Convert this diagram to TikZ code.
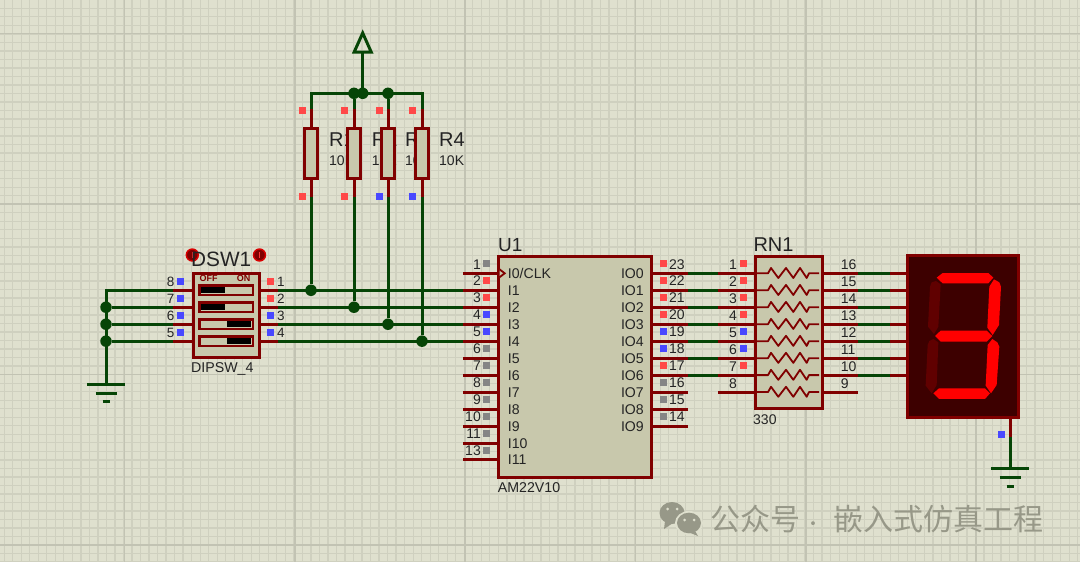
\documentclass[tikz,border=0pt]{standalone}
\usepackage{fontspec}
\setmainfont{Liberation Sans}
\newfontfamily\cjk{Noto Sans CJK SC}
\definecolor{sheet}{HTML}{DFE0CE}
\definecolor{gridA}{HTML}{CFD0BF}
\definecolor{gridB}{HTML}{C2C3B3}
\definecolor{pinred}{HTML}{800000}
\definecolor{wiregreen}{HTML}{064506}
\definecolor{bodyfill}{HTML}{C8C8AC}
\definecolor{pr}{HTML}{FF4848}
\definecolor{pb}{HTML}{4848FF}
\definecolor{pg}{HTML}{858585}
\definecolor{ink}{HTML}{242424}
\definecolor{wmark}{HTML}{979888}
\newcommand{\fs}[1]{\fontsize{#1}{#1}\selectfont}
\tikzset{
	wire/.style={wiregreen, line width=3pt},
	stub/.style={pinred, line width=3pt},
	box/.style={draw=pinred, line width=3pt, fill=bodyfill},
	dot/.style={circle, fill=wiregreen, inner sep=0pt, minimum size=11.5pt},
	sq/.style={rectangle, fill=#1, inner sep=0pt, minimum size=7pt},
	txt/.style={anchor=base west, inner sep=0pt, text=ink, font=\fs{#1}},
	txr/.style={anchor=base east, inner sep=0pt, text=ink, font=\fs{#1}},
	ground/.pic={
		\draw[wire] (-18.7,0) -- (18.7,0);
		\draw[wire] (-10.5,9) -- (10.5,9);
		\draw[wire] (-3.5,17.5) -- (3.5,17.5);
	},
	probe/.pic={
		\draw[draw=red!85!black, fill=pinred, line width=1.4pt] (0,0) circle (6);
		\draw[red!80!white, line width=0.8pt] (0,-3) -- (0,2.5);
	},
}

\begin{document}
\begin{tikzpicture}[x=1pt, y=-1pt]
\useasboundingbox (0,0) rectangle (1080,562);
\fill[sheet] (0,0) rectangle (1080,562);
\foreach \i in {0,...,126}
	\draw[gridA, line width=1.3pt] ({4.2+\i*8.52},0) -- ({4.2+\i*8.52},562);
\foreach \j in {0,...,65}
	\draw[gridA, line width=1.3pt] (0,{8.3+\j*8.52}) -- (1080,{8.3+\j*8.52});
\foreach \i in {0,...,6}
	\draw[gridB, line width=1.6pt] ({124.5+\i*170.3},0) -- ({124.5+\i*170.3},562);
\foreach \j in {0,...,3}
	\draw[gridB, line width=1.6pt] (0,{33.6+\j*170.4}) -- (1080,{33.6+\j*170.4});

% resistor labels sit under the bodies
\foreach \n/\x in {1/329,2/371.7,3/405,4/439} {
	\node[txt=20] (rlab\n) at (\x,146) {R\n};
	\node[txt=14] (rval\n) at (\x,165) {10K};
}

% pin ends
\coordinate (rail) at (362.7,93.3);
\coordinate (vcc) at (362.7,52);
\coordinate (gnda) at (106,384);
\coordinate (gndb) at (1010,468.7);
\coordinate (segk) at (1010,437);
\foreach \n/\x in {1/311,2/354,3/388,4/422} {
	\coordinate (r\n t) at (\x,109);
	\coordinate (r\n b) at (\x,197);
}
\foreach \i in {1,...,4} {
	\coordinate (dswl\i) at (173,{273.3+16.97*\i});
	\coordinate (dswr\i) at (278,{273.3+16.97*\i});
}
\foreach \i in {0,...,11}
	\coordinate (u1l\i) at (463,{273.3+16.97*\i});
\foreach \i in {0,...,9}
	\coordinate (u1r\i) at (688,{273.3+16.97*\i});
\foreach \i in {0,...,7} {
	\coordinate (rnl\i) at (718,{273.3+16.97*\i});
	\coordinate (rnr\i) at (858,{273.3+16.97*\i});
}
\foreach \i in {0,...,6}
	\coordinate (seg\i) at (890,{273.3+16.97*\i});

% junctions
\foreach \n/\i in {1/1,2/2,3/3,4/4}
	\node[dot] (jr\n) at (r\n b |- dswr\i) {};
\foreach \i in {2,3,4}
	\node[dot] (jl\i) at (gnda |- dswl\i) {};
\node[dot] (jt1) at (r2t |- rail) {};
\node[dot] (jt2) at (rail) {};
\node[dot] (jt3) at (r3t |- rail) {};

% wires
\draw[wire, line join=miter] (r1t) -- (r1t |- rail) -- (r4t |- rail) -- (r4t);
\draw[wire] (jt1) -- (r2t);
\draw[wire] (jt3) -- (r3t);
\draw[wire] (rail) -- (vcc);
\draw[wire, line join=miter] (vcc) -- ++(-8.5,0) -- ++(8.5,-19) -- ++(8.5,19) -- cycle;
\foreach \n in {1,...,4}
	\draw[wire] (r\n b) -- (jr\n);
\draw[wire, line join=miter] (dswl1) -- (gnda |- dswl1) -- (gnda);
\foreach \i in {2,3,4}
	\draw[wire] (dswl\i) -- (jl\i);
\foreach \i in {1,...,4}
	\draw[wire] (dswr\i) -- (u1l\i);
\foreach \i in {0,...,6} {
	\draw[wire] (u1r\i) -- (rnl\i);
	\draw[wire] (rnr\i) -- (seg\i);
}
\draw[wire] (segk) -- (gndb);
\pic () at (gnda) {ground};
\pic () at (gndb) {ground};

% resistors
\foreach \n/\x in {1/311,2/354,3/388,4/422} {
	\draw[stub] (r\n t) -- (r\n b);
	\node[box, rectangle, inner sep=0pt, minimum width=13pt, minimum height=50pt] (r\n) at (\x,153) {};
}
\foreach \n/\c/\x in {1/pr/302,2/pr/344.3,3/pb/379,4/pb/412.7} {
	\node[sq=pr] (rst\n) at (\x,110.3) {};
	\node[sq=\c] (rsb\n) at (\x,196) {};
}

% dip switch
\foreach \i in {1,...,4} {
	\draw[stub] (dswl\i) -- (dswr\i);
}
\node[box, rectangle, inner sep=0pt, minimum width=66pt, minimum height=83.5pt] (dsw) at (226,315.3) {};
\foreach \i/\a/\b in {1/black/bodyfill,2/black/bodyfill,3/bodyfill/black,4/bodyfill/black} {
	\pgfmathsetmacro\y{273.3+16.97*\i}
	\draw[pinred, line width=2.4pt, fill=bodyfill] (199.5,\y-4.8) rectangle (252.8,\y+4.8);
	\fill[\a] (201,\y-3) rectangle (225,\y+3);
	\fill[\b] (227,\y-3) rectangle (250.5,\y+3);
}
\node[anchor=base west, inner sep=0pt, text=pinred, font=\fs{9}\bfseries] (off) at (199.5,281.7) {OFF};
\node[anchor=base east, inner sep=0pt, text=pinred, font=\fs{9}\bfseries] (on) at (250.5,281.7) {ON};
\foreach \i/\l/\c/\r in {1/8/pr/1,2/7/pr/2,3/6/pb/3,4/5/pb/4} {
	\pgfmathsetmacro\y{273.3+16.97*\i}
	\node[sq=pb] (dsl\i) at (180.3,\y-8.5) {};
	\node[sq=\c] (dsr\i) at (270,\y-8.5) {};
	\node[txr=13.5] (dnl\i) at (174.5,\y-3.5) {\l};
	\node[txt=13.5] (dnr\i) at (277,\y-3.5) {\r};
}
\pic () at (192.3,255) {probe};
\pic () at (259.5,255) {probe};
\node[txt=20.8] (dswname) at (191,266.7) {DSW1};
\node[txt=14.2] (dswtype) at (191,372.7) {DIPSW\_4};

% U1
\foreach \i in {0,...,11}
	\draw[stub] (u1l\i) -- ++(36,0);
\foreach \i in {0,...,9}
	\draw[stub] (u1r\i) -- ++(-37,0);
\node[box, rectangle, inner sep=0pt, minimum width=153pt, minimum height=221pt] (u1) at (575,367) {};
\draw[pinred, line width=1.8pt, fill=bodyfill] (499.5,269.3) -- (504.7,273.3) -- (499.5,277.3);
\foreach \i/\lab/\num/\col in {0/{I0/CLK}/1/pg,1/I1/2/pr,2/I2/3/pr,3/I3/4/pb,4/I4/5/pb,5/I5/6/pg,6/I6/7/pg,7/I7/8/pg,8/I8/9/pg,9/I9/10/pg,10/I10/11/pg,11/I11/13/pg} {
	\pgfmathsetmacro\y{273.3+16.97*\i}
	\node[txt=14.1] (ul\i) at (507.7,\y+5) {\lab};
	\node[txr=14] (un\i) at (481,\y-4.3) {\num};
	\node[sq=\col] (us\i) at (486.7,\y-9.5) {};
}
\foreach \i/\num/\col in {0/23/pr,1/22/pr,2/21/pr,3/20/pr,4/19/pb,5/18/pb,6/17/pr,7/16/pg,8/15/pg,9/14/pg} {
	\pgfmathsetmacro\y{273.3+16.97*\i}
	\node[txr=14.1] (uo\i) at (644,\y+5) {IO\i};
	\node[txt=14] (um\i) at (669,\y-4.3) {\num};
	\node[sq=\col] (ut\i) at (663,\y-9.5) {};
}
\node[txt=19] (u1name) at (498,251.7) {U1};
\node[txt=14.2] (u1type) at (497.7,492.7) {AM22V10};

% RN1
\foreach \i in {0,...,7}
	\draw[stub] (rnl\i) -- ++(37,0);
\foreach \i in {0,...,7}
	\draw[stub] (rnr\i) -- ++(-36,0);
\node[box, rectangle, inner sep=0pt, minimum width=67pt, minimum height=152pt] (rn) at (788.5,332.3) {};
\foreach \i in {0,...,7} {
	\pgfmathsetmacro\y{273.3+16.97*\i}
	\draw[pinred, line width=1.8pt, line join=round] (757,\y) -- (768,\y) -- (771,\y-5.3) -- (778.3,\y+4.7) -- (786,\y-5.3) -- (793.3,\y+4.7) -- (800,\y-5.3) -- (806.7,\y+4.7) -- (809,\y) -- (819,\y);
}
\foreach \i/\l/\r/\col in {0/1/16/pr,1/2/15/pr,2/3/14/pr,3/4/13/pr,4/5/12/pb,5/6/11/pb,6/7/10/pr} {
	\pgfmathsetmacro\y{273.3+16.97*\i}
	\node[txr=14] (rnn\i) at (737,\y-4) {\l};
	\node[txt=14] (rnm\i) at (840.7,\y-4) {\r};
	\node[sq=\col] (rns\i) at (743,\y-9.5) {};
}
\node[txr=14] (rnn7) at (737,388.8) {8};
\node[txt=14] (rnm7) at (840.7,388.8) {9};
\node[txt=20] (rnname) at (753.3,251.3) {RN1};
\node[txt=14] (rntype) at (753,424.3) {330};

% display
\foreach \i in {0,...,6}
	\draw[stub] (seg\i) -- ++(18,0);
\draw[stub] (segk) -- ++(0,-20);
\node[draw=pinred, line width=3pt, fill={rgb,255:red,61;green,0;blue,0}, rectangle, inner sep=0pt, minimum width=110.5pt, minimum height=161.5pt] (seven) at (963,336.5) {};
\begin{scope}[shift={(920,265)}, x=0.3333pt, y=-0.3333pt]
\fill[red] (50,38) -- (68,24) -- (205,24) -- (220,38) -- (205,55) -- (68,55) -- cycle;
\fill[red] (222,43) -- (238,52) -- (243,65) -- (237,180) -- (218,210) -- (202,188) -- (208,65) -- cycle;
\fill[red] (45,213) -- (62,197) -- (200,197) -- (217,213) -- (200,230) -- (62,230) -- cycle;
\fill[red] (217,222) -- (232,232) -- (238,245) -- (230,360) -- (213,385) -- (197,362) -- (203,240) -- cycle;
\fill[red] (40,385) -- (57,370) -- (195,370) -- (210,385) -- (195,402) -- (57,402) -- cycle;
\fill[pinred!75!black] (48,48) -- (62,58) -- (55,185) -- (42,207) -- (24,185) -- (30,65) -- (35,52) -- cycle;
\fill[pinred!75!black] (40,222) -- (55,232) -- (50,360) -- (35,385) -- (17,362) -- (23,240) -- (28,228) -- cycle;
\end{scope}
\node[sq=pb] (segs) at (1001,434.7) {};

% watermark
\fill[wmark] (672,513) ellipse (12.5 and 11);
\fill[wmark] (665,521) -- (664,529) -- (673,523) -- cycle;
\fill[sheet] (689,523) ellipse (14 and 12);
\fill[wmark] (689,523) ellipse (12 and 10.3);
\fill[wmark] (695,531) -- (698,536) -- (688,532) -- cycle;
\foreach \x/\y in {667.5/509,677/509,684.5/520,694/520}
	\fill[sheet] (\x,\y) circle (1.5);
\node[anchor=base west, inner sep=0pt, text=wmark, font=\cjk\fs{30}] (wm) at (710,530) {公众号\hspace{4pt}{\fs{18}·}\hspace{11pt}嵌入式仿真工程};
\end{tikzpicture}
\end{document}
